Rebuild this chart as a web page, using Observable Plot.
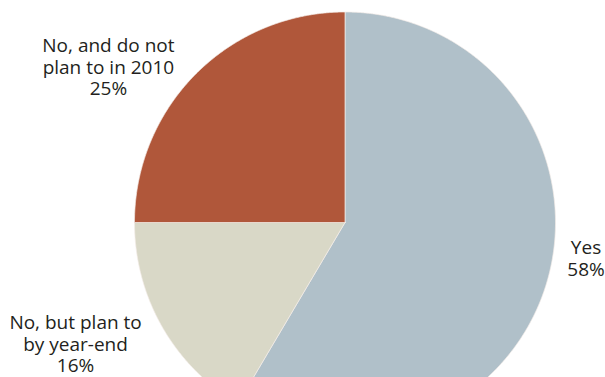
<!DOCTYPE html>
<html>
<head>
<meta charset="utf-8">
<script src="https://cdn.jsdelivr.net/npm/d3@7"></script>
<script src="https://cdn.jsdelivr.net/npm/@observablehq/plot@0.6"></script>
<style>
  html, body { margin: 0; padding: 0; background: #fff; overflow: hidden; }
  #chart svg { display: block; overflow: hidden; }
</style>
</head>
<body>
<div id="chart"></div>
<script>
// ---- data ----
const categories = ["Yes", "No, but plan to\nby year-end", "No, and do not\nplan to in 2010"];
const shares = [58.5, 16.5, 25];          // slice sizes as drawn
const pctLabels = ["58%", "16%", "25%"];  // printed percentages
const colors = ["#b0c0c9", "#d9d8c7", "#b0573a"];

// ---- layout (not data) ----
const W = 605, H = 377;
const R = 210.5, CX = 344.5, CY = 222;   // pixel geometry of the pie within the frame
// label anchor (centre of text block) in unit-radius coordinates
const labelPos = [
  [1.145, -0.169],
  [-1.280, -0.577],
  [-1.124, 0.739]
];

// pie angles via d3 (clockwise from 12 o'clock)
const arcs = d3.pie().sort(null).value(d => d)(shares);

const slicePts = [];
arcs.forEach((a, i) => {
  const cat = categories[i];
  slicePts.push({x: 0, y: 0, cat});
  const n = Math.max(2, Math.ceil((a.endAngle - a.startAngle) / (Math.PI / 720)));
  for (let k = 0; k <= n; k++) {
    const t = a.startAngle + (a.endAngle - a.startAngle) * k / n;
    slicePts.push({x: Math.sin(t), y: Math.cos(t), cat});
  }
  slicePts.push({x: 0, y: 0, cat});
});

const labels = categories.map((c, i) => ({
  cat: c,
  text: c + "\n" + pctLabels[i],
  x: labelPos[i][0],
  y: labelPos[i][1]
}));

const chart = Plot.plot({
  width: W,
  height: H,
  margin: 0,
  style: {background: "#fff", overflow: "hidden"},
  x: {domain: [-CX / R, (W - CX) / R], axis: null},
  y: {domain: [-(H - CY) / R, CY / R], axis: null},
  color: {domain: categories, range: colors},
  marks: [
    Plot.line(slicePts, {
      x: "x", y: "y", z: "cat", fill: "cat",
      stroke: "#f3ece8", strokeWidth: 0.7, curve: "linear", clip: true
    }),
    Plot.text(labels, {
      x: "x", y: "y", text: "text",
      fontFamily: "Open Sans", fontSize: 19, lineHeight: 1.12,
      fill: "#231f20", textAnchor: "middle", lineAnchor: "middle"
    })
  ]
});
document.getElementById("chart").appendChild(chart);
</script>
</body>
</html>
